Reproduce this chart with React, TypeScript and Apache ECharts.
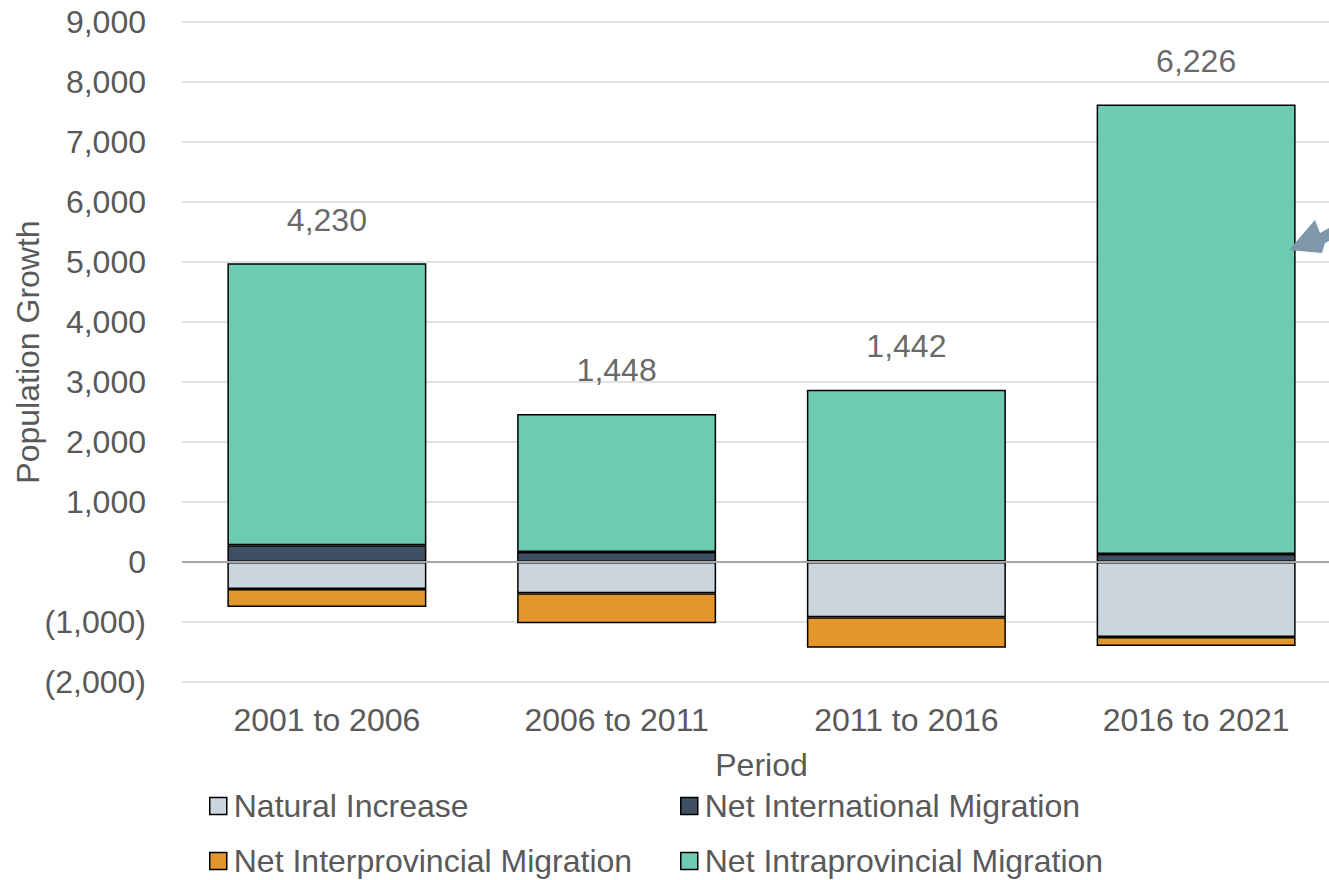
import React, { useEffect, useRef } from "react";
import * as echarts from "echarts";

// Population growth components by census period
const periods = ["2001 to 2006", "2006 to 2011", "2011 to 2016", "2016 to 2021"];
const naturalIncrease = [-450, -520, -920, -1250];
const netInternational = [280, 165, 8, 133];
const netInterprovincial = [-300, -500, -510, -150];
const netIntraprovincial = [4700, 2303, 2864, 7493];

const yTicks = { min: -2000, max: 9000, interval: 1000 };

const FONT = "Liberation Sans, Arial, sans-serif";
const TEXT = "#595959";
const FS = 32;

const fmt = (v: number) => {
  const s = Math.abs(v).toLocaleString("en-US");
  return v < 0 ? `(${s})` : s;
};

export default function App() {
  const ref = useRef<HTMLDivElement>(null);

  useEffect(() => {
    if (!ref.current) return;
    const chart = echarts.init(ref.current, undefined, { renderer: "svg" });

    const totals = periods.map(
      (_, i) =>
        naturalIncrease[i] + netInternational[i] + netInterprovincial[i] + netIntraprovincial[i]
    );
    const positiveTops = periods.map((_, i) => netInternational[i] + netIntraprovincial[i]);

    const barBase = {
      type: "bar" as const,
      stack: "growth",
      barWidth: 199,
      itemStyle: { borderColor: "#000", borderWidth: 1.5 },
    };

    const legendBase = {
      itemWidth: 17,
      itemHeight: 17,
      icon: "rect",
      padding: 0,
      itemStyle: { borderColor: "#000", borderWidth: 1.5 },
      textStyle: { color: TEXT, fontSize: FS, fontFamily: FONT, padding: [0, 0, 0, 2] },
    };

    chart.setOption({
      animation: false,
      backgroundColor: "#fff",
      grid: { left: 182, top: 22, width: 1159, height: 660, outerBoundsMode: "none" },
      xAxis: {
        type: "category",
        data: periods,
        name: "Period",
        nameLocation: "middle",
        nameGap: 67,
        nameMoveOverlap: false,
        nameTextStyle: { color: TEXT, fontSize: FS, fontFamily: FONT },
        axisLine: { show: false },
        axisTick: { show: false },
        axisLabel: { color: TEXT, fontSize: FS, fontFamily: FONT, margin: 22 },
      },
      yAxis: {
        type: "value",
        min: yTicks.min,
        max: yTicks.max,
        interval: yTicks.interval,
        name: "Population Growth",
        nameLocation: "middle",
        nameGap: 138,
        nameMoveOverlap: false,
        nameTextStyle: { color: TEXT, fontSize: FS, fontFamily: FONT },
        axisLine: { show: false },
        axisTick: { show: false },
        axisLabel: { color: TEXT, fontSize: FS, fontFamily: FONT, margin: 36, formatter: fmt },
        splitLine: { lineStyle: { color: "#d9d9d9", width: 1.5 } },
      },
      legend: [
        { ...legendBase, left: 209, top: 790, data: ["Natural Increase"] },
        { ...legendBase, left: 680, top: 790, data: ["Net International Migration"] },
        { ...legendBase, left: 209, top: 845, data: ["Net Interprovincial Migration"] },
        { ...legendBase, left: 680, top: 845, data: ["Net Intraprovincial Migration"] },
      ],
      series: [
        {
          ...barBase,
          name: "Natural Increase",
          data: naturalIncrease,
          itemStyle: { ...barBase.itemStyle, color: "#cbd5de" },
        },
        {
          ...barBase,
          name: "Net International Migration",
          data: netInternational,
          itemStyle: { ...barBase.itemStyle, color: "#3f5062" },
        },
        {
          ...barBase,
          name: "Net Interprovincial Migration",
          data: netInterprovincial,
          itemStyle: { ...barBase.itemStyle, color: "#e3962b" },
        },
        {
          ...barBase,
          name: "Net Intraprovincial Migration",
          data: netIntraprovincial,
          itemStyle: { ...barBase.itemStyle, color: "#6ccbb0" },
          markLine: {
            silent: true,
            symbol: "none",
            label: { show: false },
            lineStyle: { color: "#a6a6a6", width: 2, type: "solid" },
            data: [{ yAxis: 0 }],
          },
        },
        {
          type: "scatter",
          name: "Net Total",
          symbolSize: 1,
          itemStyle: { color: "transparent" },
          data: positiveTops.map((top, i) => ({ value: top, total: totals[i] })),
          label: {
            show: true,
            position: "top",
            distance: 27,
            color: "#404040",
            fontSize: FS,
            fontFamily: FONT,
            formatter: (p: any) => fmt(p.data.total),
          },
          z: 10,
        },
      ],
      graphic: [
        {
          type: "polygon",
          shape: {
            points: [
              [1289, 250],
              [1315, 220],
              [1320, 233],
              [1329, 228],
              [1329, 241],
              [1325, 243],
              [1322, 253],
            ],
          },
          style: { fill: "#7f97aa" },
          z: 20,
        },
      ],
    });

    return () => chart.dispose();
  }, []);

  return (
    <div
      ref={ref}
      style={{ position: "fixed", left: 0, top: 0, width: 1329, height: 880 }}
    />
  );
}
